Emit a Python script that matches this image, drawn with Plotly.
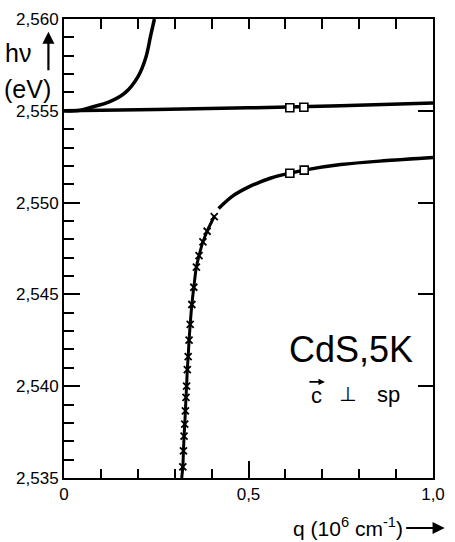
import plotly.graph_objects as go

# ---------------- data ----------------
upper_q = [0.0, 0.04, 0.0765, 0.121, 0.166, 0.201, 0.222, 0.235, 0.245]
upper_E = [2.55500, 2.55502, 2.55521, 2.55547, 2.55599, 2.55688, 2.55792, 2.55911, 2.56000]

exc_q = [0.0, 0.25, 0.5, 0.75, 1.0]
exc_E = [2.55500, 2.55507, 2.55516, 2.55527, 2.55543]

lower_q = [0.419, 0.456, 0.4995, 0.561, 0.612, 0.651, 0.75, 0.875, 1.0]
lower_E = [2.54968, 2.55034, 2.55084, 2.55134, 2.55160, 2.55177, 2.55207, 2.55229, 2.55246]

tail_q = [0.319]
tail_E = [2.535]

cross_q = [0.3220, 0.3237, 0.3254, 0.3272, 0.3290, 0.3306, 0.3322, 0.3342, 0.3365,
           0.3390, 0.3420, 0.3465, 0.3518, 0.3588, 0.3659, 0.3765, 0.3879, 0.4072]
cross_E = [2.53561, 2.53648, 2.53728, 2.53793, 2.53866, 2.53939, 2.54000, 2.54090, 2.54161,
           2.54251, 2.54337, 2.54445, 2.54539, 2.54649, 2.54711, 2.54786, 2.54844, 2.54924]

sq_exc_q = [0.612, 0.650]
sq_exc_E = [2.55517, 2.55519]
sq_low_q = [0.612, 0.651]
sq_low_E = [2.55160, 2.55177]

y_major = [2.535, 2.540, 2.545, 2.550, 2.555, 2.560]
y_major_text = ["2,535", "2,540", "2,545", "2,550", "2,555", "2,560"]
x_major = [0.0, 0.5, 1.0]
x_major_text = ["0", "0,5", "1,0"]

# ---------------- layout geometry ----------------
W, H = 455, 542
L, R, T, B = 64, 443, 10, 478


def px(xpix):
    return (xpix - L) / (R - L)


def py(ypix):
    return (B - ypix) / (B - T)


FONT = "Liberation Sans"
LW = 3.5

fig = go.Figure()

fig.add_trace(go.Scatter(x=upper_q, y=upper_E, mode="lines",
                         line=dict(color="black", width=LW, shape="spline"),
                         hoverinfo="skip"))
fig.add_trace(go.Scatter(x=exc_q, y=exc_E, mode="lines",
                         line=dict(color="black", width=LW, shape="spline"),
                         hoverinfo="skip"))
fig.add_trace(go.Scatter(x=lower_q, y=lower_E, mode="lines",
                         line=dict(color="black", width=LW, shape="spline"),
                         hoverinfo="skip"))
fig.add_trace(go.Scatter(x=tail_q + cross_q, y=tail_E + cross_E, mode="lines",
                         line=dict(color="black", width=3, shape="spline"),
                         hoverinfo="skip"))
fig.add_trace(go.Scatter(x=cross_q, y=cross_E, mode="markers",
                         marker=dict(symbol="x-thin", size=7, color="black",
                                     line=dict(color="black", width=1.8)),
                         hoverinfo="skip"))
fig.add_trace(go.Scatter(x=sq_exc_q + sq_low_q, y=sq_exc_E + sq_low_E, mode="markers",
                         marker=dict(symbol="square", size=8, color="white",
                                     line=dict(color="black", width=1.6)),
                         hoverinfo="skip"))
# dummy trace to carry the top/right tick axes
fig.add_trace(go.Scatter(x=[None], y=[None], xaxis="x2", yaxis="y2",
                         mode="markers", hoverinfo="skip"))

y_minor = [round(2.535 + 0.001 * i, 3) for i in range(26) if i % 5]
x_minor = [round(0.1 * i, 1) for i in range(1, 10) if i != 5]

fig.update_layout(
    width=W, height=H,
    margin=dict(l=L, r=W - R, t=T, b=H - B),
    paper_bgcolor="white", plot_bgcolor="white",
    showlegend=False,
    font=dict(family=FONT, color="black", size=16),
    xaxis=dict(range=[0, 1.0], showgrid=False, zeroline=False,
               showline=True, linecolor="black", linewidth=2, mirror=True,
               tickmode="array", tickvals=x_major, ticktext=x_major_text,
               ticks="inside", ticklen=17, tickwidth=1.6, tickcolor="black",
               tickfont=dict(size=17, family=FONT, color="black"),
               minor=dict(tickmode="array", tickvals=x_minor, ticks="inside",
                          ticklen=9, tickwidth=1.6, tickcolor="black")),
    yaxis=dict(range=[2.535, 2.560], showgrid=False, zeroline=False,
               showline=True, linecolor="black", linewidth=2, mirror=True,
               tickmode="array", tickvals=y_major, ticktext=y_major_text,
               ticks="inside", ticklen=16, tickwidth=1.6, tickcolor="black",
               tickfont=dict(size=17, family=FONT, color="black"),
               minor=dict(tickmode="array", tickvals=y_minor, ticks="inside",
                          ticklen=10, tickwidth=1.6, tickcolor="black")),
    xaxis2=dict(range=[0, 1.0], overlaying="x", side="top", anchor="y2",
                showgrid=False, zeroline=False, showline=False,
                tickmode="array", tickvals=[round(0.1 * i, 1) for i in range(1, 10)],
                ticks="inside", ticklen=10, tickwidth=1.6, tickcolor="black",
                showticklabels=False),
    yaxis2=dict(range=[2.535, 2.560], overlaying="y", side="right", anchor="x2",
                showgrid=False, zeroline=False, showline=False,
                tickmode="array", tickvals=[2.540, 2.545, 2.550, 2.555],
                ticks="inside", ticklen=15, tickwidth=1.6, tickcolor="black",
                showticklabels=False),
)

BLACK = "black"
ann = []
# y axis label: h nu, arrow, (eV)
ann.append(dict(text="hν", x=px(1), y=py(45), xref="paper", yref="paper",
                xanchor="left", yanchor="middle", showarrow=False,
                font=dict(size=25, family=FONT, color=BLACK)))
ann.append(dict(text="", x=px(48), y=py(23), xref="paper", yref="paper",
                ax=0, ay=40, axref="pixel", ayref="pixel",
                showarrow=True, arrowhead=2, arrowsize=1.1, arrowwidth=2.2,
                arrowcolor=BLACK))
ann.append(dict(text="(eV)", x=px(0), y=py(81), xref="paper", yref="paper",
                xanchor="left", yanchor="middle", showarrow=False,
                font=dict(size=25, family=FONT, color=BLACK)))
# x axis label
ann.append(dict(text="q (10<sup>6</sup> cm<sup>-1</sup>)", x=px(414), y=py(528),
                xref="paper", yref="paper", xanchor="right", yanchor="middle",
                showarrow=False, font=dict(size=21, family=FONT, color=BLACK)))
ann.append(dict(text="", x=px(455), y=py(529), xref="paper", yref="paper",
                ax=-40, ay=0, axref="pixel", ayref="pixel",
                showarrow=True, arrowhead=2, arrowsize=1.1, arrowwidth=2.2,
                arrowcolor=BLACK))
# sample label
ann.append(dict(text="CdS,5K", x=px(359), y=py(347), xref="paper", yref="paper",
                xanchor="center", yanchor="middle", showarrow=False,
                font=dict(size=36, family=FONT, color=BLACK)))
ann.append(dict(text="c", x=px(323), y=py(394), xref="paper", yref="paper",
                xanchor="center", yanchor="middle", showarrow=False,
                font=dict(size=22, family=FONT, color=BLACK)))
# vector arrow over the c
ann.append(dict(text="", x=px(332), y=py(380), xref="paper", yref="paper",
                ax=-17, ay=0, axref="pixel", ayref="pixel",
                showarrow=True, arrowhead=2, arrowsize=0.8, arrowwidth=1.6,
                arrowcolor=BLACK))
ann.append(dict(text="⊥", x=px(355), y=py(392), xref="paper", yref="paper",
                xanchor="center", yanchor="middle", showarrow=False,
                font=dict(size=20, family="DejaVu Sans", color=BLACK)))
ann.append(dict(text="sp", x=px(397), y=py(393), xref="paper", yref="paper",
                xanchor="center", yanchor="middle", showarrow=False,
                font=dict(size=22, family=FONT, color=BLACK)))

fig.update_layout(annotations=ann)

fig.write_html("out.html")
